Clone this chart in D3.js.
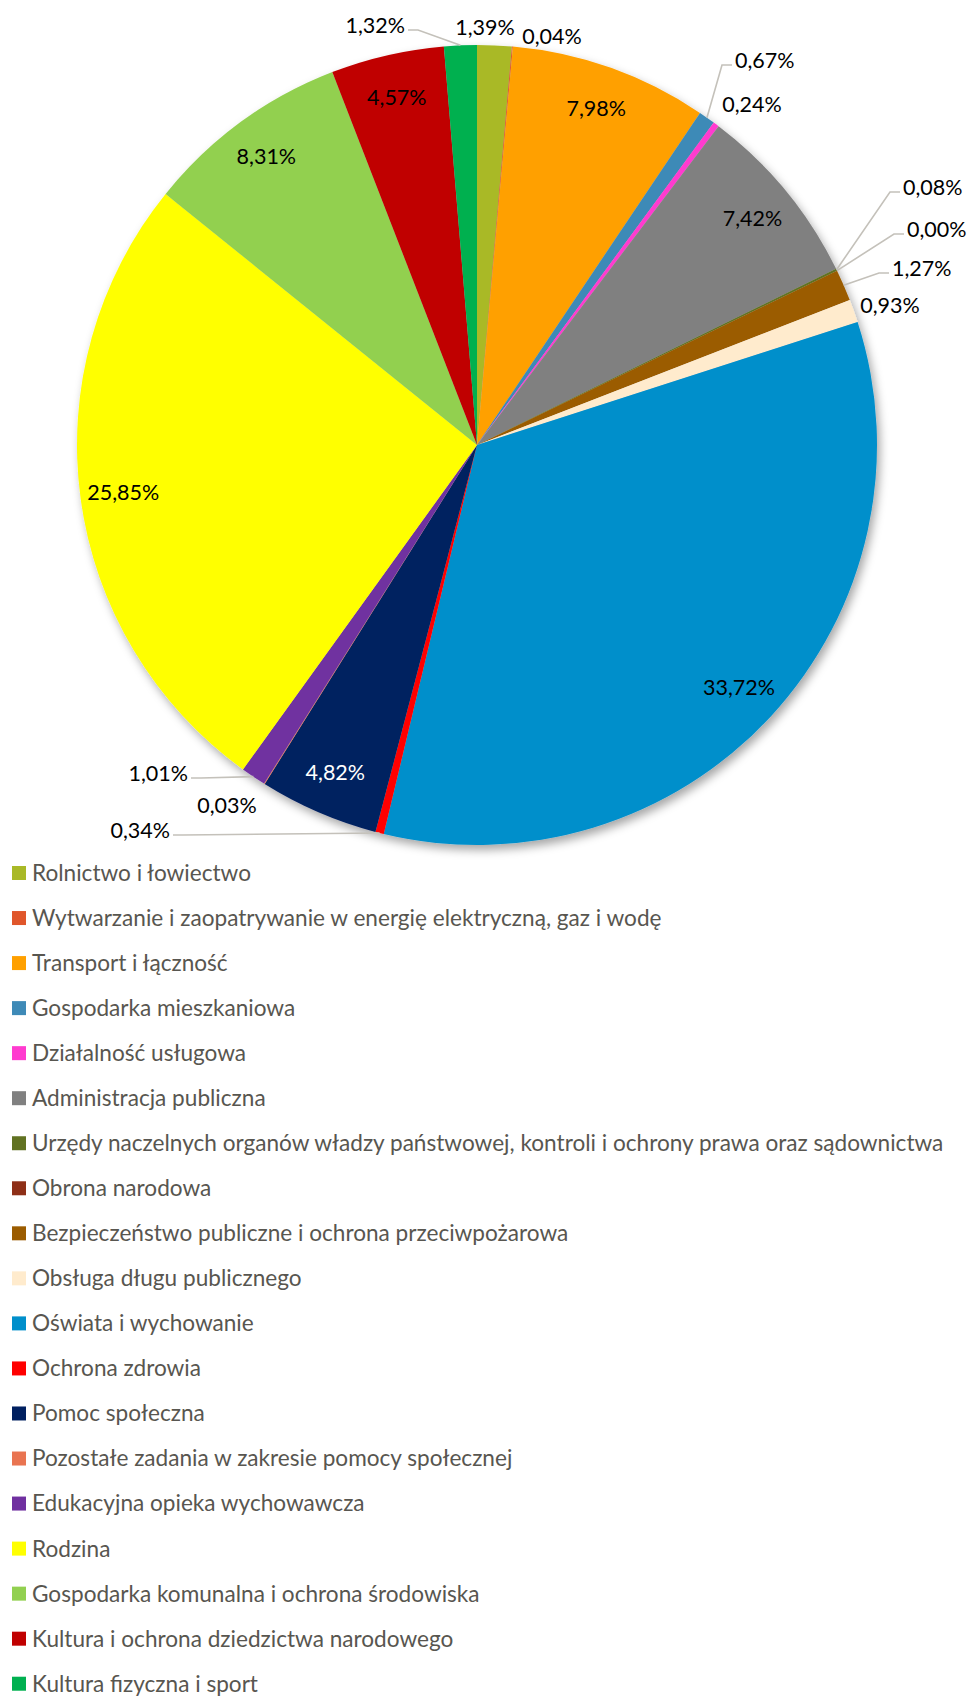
<!DOCTYPE html>
<html>
<head>
<meta charset="utf-8">
<script src="https://cdn.jsdelivr.net/npm/d3@7"></script>
<style>
  body { margin: 0; background: #fff; }
  svg { display: block; font-family: Lato, "Open Sans", sans-serif; }
</style>
</head>
<body>
<svg width="971" height="1697"></svg>
<script>
// categories (legend order = slice order, clockwise from 12 o'clock)
var categories = [
  "Rolnictwo i łowiectwo",
  "Wytwarzanie i zaopatrywanie w energię elektryczną, gaz i wodę",
  "Transport i łączność",
  "Gospodarka mieszkaniowa",
  "Działalność usługowa",
  "Administracja publiczna",
  "Urzędy naczelnych organów władzy państwowej, kontroli i ochrony prawa oraz sądownictwa",
  "Obrona narodowa",
  "Bezpieczeństwo publiczne i ochrona przeciwpożarowa",
  "Obsługa długu publicznego",
  "Oświata i wychowanie",
  "Ochrona zdrowia",
  "Pomoc społeczna",
  "Pozostałe zadania w zakresie pomocy społecznej",
  "Edukacyjna opieka wychowawcza",
  "Rodzina",
  "Gospodarka komunalna i ochrona środowiska",
  "Kultura i ochrona dziedzictwa narodowego",
  "Kultura fizyczna i sport"
];
var shares = [1.39, 0.04, 7.98, 0.67, 0.24, 7.42, 0.08, 0.00, 1.27, 0.93,
              33.72, 0.34, 4.82, 0.03, 1.01, 25.85, 8.31, 4.57, 1.32];
var colors = ["#A9B927", "#E0562B", "#FFA000", "#3E8AB7", "#FF3BCF", "#808080",
              "#617222", "#8E2F17", "#9B5C00", "#FFEBCD", "#008FCB", "#FF0000",
              "#002060", "#E97451", "#7030A0", "#FFFF00", "#92D050", "#C00000", "#00B050"];

// where the small-slice labels sit, relative to the pie centre
var outsideSpots = {
  0:  {x: 8,    y: -418, anchor: "middle", leader: false},
  1:  {x: 75,   y: -409, anchor: "middle", leader: false},
  3:  {x: 258,  y: -385, anchor: "start",  leader: true},
  4:  {x: 275,  y: -341, anchor: "middle", leader: false},
  6:  {x: 426,  y: -258, anchor: "start",  leader: true},
  7:  {x: 430,  y: -216, anchor: "start",  leader: true},
  8:  {x: 415,  y: -177, anchor: "start",  leader: true},
  9:  {x: 413,  y: -140, anchor: "middle", leader: false},
  11: {x: -307, y: 385,  anchor: "end",    leader: true},
  13: {x: -250, y: 360,  anchor: "middle", leader: false},
  14: {x: -289, y: 328,  anchor: "end",    leader: true},
  18: {x: -72,  y: -420, anchor: "end",    leader: true}
};

var svg = d3.select("svg");
var cx = 477, cy = 445, radius = 400;

var defs = svg.append("defs");
var shadow = defs.append("filter").attr("id", "shadow")
    .attr("x", "-10%").attr("y", "-10%").attr("width", "120%").attr("height", "120%");
shadow.append("feDropShadow")
    .attr("dx", 3).attr("dy", 5).attr("stdDeviation", 5)
    .attr("flood-color", "#000").attr("flood-opacity", 0.35);

var data = shares.map(function(v, i) { return {name: categories[i], value: v, i: i}; });

var pie = d3.pie().sort(null).value(function(d) { return d.value; });
var arcs = pie(data);
var arc = d3.arc().innerRadius(0).outerRadius(radius);
var labelArc = d3.arc().innerRadius(357).outerRadius(357);
var edgeArc = d3.arc().innerRadius(radius).outerRadius(radius);

var g = svg.append("g").attr("transform", "translate(" + cx + "," + cy + ")");

g.append("g").attr("filter", "url(#shadow)")
  .selectAll("path")
  .data(arcs)
  .enter().append("path")
    .attr("d", arc)
    .attr("fill", function(d) { return colors[d.data.i]; });

function fmt(v) { return v.toFixed(2).replace(".", ",") + "%"; }

// leader lines
var leaders = arcs.filter(function(d) { var s = outsideSpots[d.data.i]; return s && s.leader; });
g.append("g").selectAll("polyline")
  .data(leaders)
  .enter().append("polyline")
    .attr("fill", "none")
    .attr("stroke", "#C4C1BA")
    .attr("stroke-width", 1.6)
    .attr("points", function(d) {
      var s = outsideSpots[d.data.i];
      var p = edgeArc.centroid(d);
      var dir = s.anchor === "start" ? -1 : 1;
      var ly = s.y + 5;
      return [p, [s.x + dir * 13, ly], [s.x + dir * 3, ly]].join(" ");
    });

// value labels
g.append("g").selectAll("text")
  .data(arcs)
  .enter().append("text")
    .attr("transform", function(d) {
      var s = outsideSpots[d.data.i];
      if (s) return "translate(" + s.x + "," + s.y + ")";
      return "translate(" + labelArc.centroid(d) + ")";
    })
    .attr("text-anchor", function(d) {
      var s = outsideSpots[d.data.i];
      return s ? s.anchor : "middle";
    })
    .attr("dy", "0.35em")
    .attr("font-size", 21.5)
    .attr("fill", function(d) { return d.data.i === 12 ? "#fff" : "#000"; })
    .text(function(d) { return fmt(d.data.value); });

// legend
var legend = svg.append("g").attr("transform", "translate(12,873)");
var rowH = 45.04;
var row = legend.selectAll("g")
  .data(data)
  .enter().append("g")
    .attr("transform", function(d, i) { return "translate(0," + (i * rowH) + ")"; });
row.append("rect")
    .attr("x", 0).attr("y", -7).attr("width", 14).attr("height", 14)
    .attr("fill", function(d) { return colors[d.i]; });
row.append("text")
    .attr("x", 20)
    .attr("dy", "0.35em")
    .attr("font-size", 22.6)
    .attr("fill", "#585650")
    .text(function(d) { return d.name; });
</script>
</body>
</html>
